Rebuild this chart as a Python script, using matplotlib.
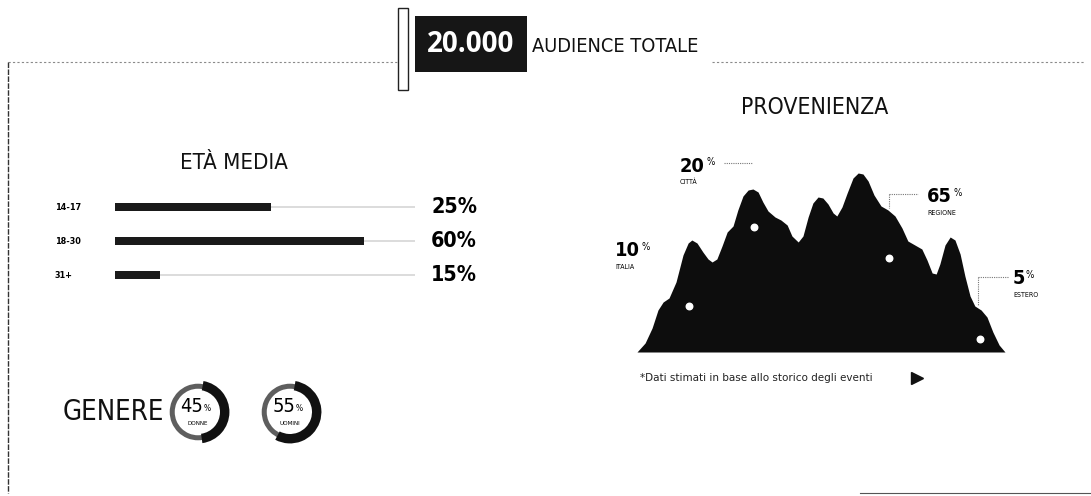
import matplotlib.pyplot as plt
from matplotlib import font_manager
from matplotlib.patches import Rectangle

W, H = 1091, 496

# carattere stretto: DejaVu Sans Condensed se presente
has_cond = any(f.name == 'DejaVu Sans' and f.stretch == 'condensed'
               for f in font_manager.fontManager.ttflist)
COND = dict(family='DejaVu Sans', stretch='condensed' if has_cond else 'normal')
K = 1.1 if has_cond else 1.0  # un po' più grande se il font è stretto

# dati
audience = '20.000'
audience_label = 'AUDIENCE TOTALE'

eta_labels = ['14-17', '18-30', '31+']
eta_pct = [25, 60, 15]
eta_bar = [0.52, 0.83, 0.15]  # lunghezza della barra

genere_labels = ['DONNE', 'UOMINI']
genere_pct = [45, 55]

prov_labels = ['ITALIA', 'CITTÀ', 'REGIONE', 'ESTERO']
prov_pct = [10, 20, 65, 5]

# profilo della "montagna" (x 0-100, altezza)
profile_x = [0, 2.2, 4.1, 5.7, 7.1, 8.7, 10.6, 12.5, 13.9, 14.9, 16.3, 17.9,
             19.3, 20.4, 21.7, 23.1, 24.5, 26.1, 27.4, 28.8, 30.2, 31.5, 32.9,
             34.2, 35.6, 37.5, 39.1, 40.8, 42.1, 43.8, 45.1, 46.5, 47.8, 49.2,
             50.5, 51.9, 53.3, 54.3, 55.7, 57.1, 58.7, 60.1, 61.4, 62.8, 64.4,
             66.3, 68.2, 70.1, 72.0, 73.6, 75.5, 77.4, 78.8, 80.2, 81.3, 82.3,
             83.7, 85.1, 86.4, 87.8, 89.1, 90.5, 91.8, 93.5, 95.1, 96.7, 98.4,
             100]
profile_h = [0, 9, 24, 42, 50, 54, 70, 97, 109, 112, 109, 100,
             93, 90, 93, 106, 120, 126, 142, 156, 162, 163, 160,
             150, 141, 135, 132, 127, 116, 110, 116, 135, 149, 155,
             154, 148, 139, 136, 145, 159, 174, 179, 178, 171, 157,
             146, 142, 136, 124, 111, 107, 103, 92, 79, 78, 88,
             107, 115, 112, 98, 76, 56, 46, 42, 35, 20, 7,
             0]
dots_x = [14.1, 31.8, 68.5, 93.2]
dots_h = [46, 125, 94, 13]

fig = plt.figure(figsize=(W / 100, H / 100), dpi=100)
fig.patch.set_facecolor('white')

ax = fig.add_axes([0, 0, 1, 1])
ax.set_xlim(0, W)
ax.set_ylim(H, 0)
ax.axis('off')


def px_axes(x0, y0, x1, y1):
    a = fig.add_axes([x0 / W, 1 - y1 / H, (x1 - x0) / W, (y1 - y0) / H])
    a.axis('off')
    return a


# cornice
dash = dict(color='#8a8a8a', lw=0.8, ls=(0, (2, 2)))
ax.plot([8, 398], [62, 62], **dash)
ax.plot([712, 1085], [62, 62], **dash)
ax.plot([8, 8], [62, 493], color='#333333', lw=1.0, ls=(0, (4, 1)))
ax.plot([860, 1091], [493, 493], color='#555555', lw=0.8)

# intestazione
ax.add_patch(Rectangle((398, 8), 10, 82, fill=False, lw=1, ec='#222222'))
ax.add_patch(Rectangle((415, 16), 112, 56, fc='#161616', ec='none'))
ax.text(471, 45, audience, color='white', fontsize=20, fontweight='bold',
        family='Open Sans', ha='center', va='center')
ax.text(532, 46, audience_label, color='#111111', fontsize=13 * K,
        ha='left', va='center', **COND)

# età media
ax.text(234, 163, 'ETÀ MEDIA', fontsize=14.5 * K, color='#111111',
        ha='center', va='center', **COND)

bx = px_axes(115, 190, 415, 292)
rows = range(len(eta_labels))
bx.barh(rows, [1] * len(eta_labels), height=0.06, color='#dcdcdc')
bx.barh(rows, eta_bar, height=0.24, color='#1a1a1a')
bx.set_xlim(0, 1)
bx.set_ylim(len(eta_labels) - 0.5, -0.5)
for i, (lab, p) in enumerate(zip(eta_labels, eta_pct)):
    bx.text(-0.2, i, lab, fontsize=6.5, fontweight='bold',
            ha='left', va='center', clip_on=False, **COND)
    bx.text(1.207, i, f'{p}%', fontsize=14 * K, fontweight='bold',
            ha='right', va='center', clip_on=False, **COND)

# genere
ax.text(113, 412, 'GENERE', fontsize=18 * K, color='#111111',
        ha='center', va='center', **COND)
centers = [198, 290]
for cx, lab, p in zip(centers, genere_labels, genere_pct):
    gx = px_axes(cx - 33, 379, cx + 33, 445)
    gx.pie([1], radius=0.9, colors=['#5e5e5e'], wedgeprops=dict(width=0.16))
    gx.pie([p, 100 - p], radius=1.0, colors=['#111111', 'none'],
           startangle=80, counterclock=False, wedgeprops=dict(width=0.3))
    gx.set_xlim(-1.05, 1.05)
    gx.set_ylim(-1.05, 1.05)
    t = gx.text(0.17, 0.18, str(p), fontsize=13 * K, ha='right', va='center',
                **COND)
    gx.annotate('%', xy=(1, 0.4), xycoords=t, fontsize=6,
                ha='left', va='center', **COND)
    gx.text(0, -0.36, lab, fontsize=4.5, ha='center', va='center', **COND)

# provenienza
ax.text(815, 107, 'PROVENIENZA', fontsize=15 * K, color='#111111',
        ha='center', va='center', **COND)

mx = px_axes(637, 173, 1005, 352)
mx.fill_between(profile_x, profile_h, 0, color='#0d0d0d', lw=0)
mx.scatter(dots_x, dots_h, s=22, color='white', zorder=3)
mx.set_xlim(0, 100)
mx.set_ylim(0, 179)

label_pos = [(615, 251), (680, 166), (927, 197), (1013, 279)]
for (lx, ly), lab, p in zip(label_pos, prov_labels, prov_pct):
    t = ax.text(lx, ly, str(p), fontsize=13 * K, fontweight='bold',
                ha='left', va='center', **COND)
    ax.annotate('%', xy=(1.05, 0.7), xycoords=t, fontsize=7,
                ha='left', va='center', **COND)
    ax.text(lx, ly + 16, lab, fontsize=5, ha='left', va='center', **COND)

lead = dict(color='#777777', lw=0.8, ls=(0, (1, 1)))
ax.plot([724, 752], [163, 163], **lead)
ax.plot([889, 918], [194, 194], **lead)
ax.plot([889, 889], [194, 208], **lead)
ax.plot([978, 1008], [277, 277], **lead)
ax.plot([978, 978], [277, 305], **lead)

ax.text(640, 378, '*Dati stimati in base allo storico degli eventi',
        fontsize=7.5, color='#222222', ha='left', va='center')
ax.plot(917, 378, marker='>', ms=9, color='#111111')

fig.savefig('out.png', dpi=100, facecolor='white')
